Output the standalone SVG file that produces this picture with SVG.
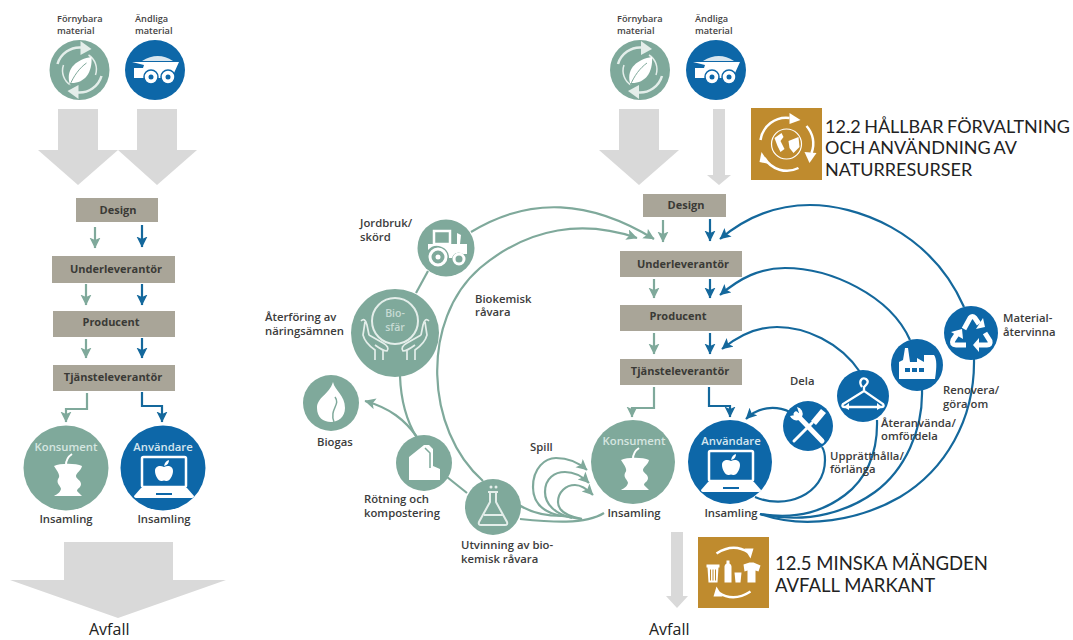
<svg xmlns="http://www.w3.org/2000/svg" width="1073" height="640" viewBox="0 0 1073 640">
<style>
text{font-family:"Open Sans","Liberation Sans",sans-serif}
.t{font-size:11.3px;font-weight:600;fill:#3c3c3c}
.s{font-size:9.2px;font-weight:600;fill:#444}
.b{font-size:11px;font-weight:700;fill:#3a3a36;text-anchor:middle}
.w{font-size:11.3px;font-weight:600;text-anchor:middle;fill:#d5e6ef}
.wg{fill:#d6e6e0}
.big{font-family:Lato,"Liberation Sans",sans-serif;font-size:18.5px;fill:#222}
.tight{font-size:18px;word-spacing:-1px}
.av{font-size:16px;fill:#222}
.box{fill:#a9a598}
.g{fill:#7fa99b}.u{fill:#0d67a8}.gold{fill:#bf8b2e}
.arr{fill:#d9d9d9}
.cg{fill:none;stroke:#7fa99b;stroke-width:2.2}
.cu{fill:none;stroke:#14689c;stroke-width:2.2}
.bio{font-size:10.5px;font-weight:600;fill:#c7dbd4;text-anchor:middle}
</style>
<defs>
<marker id="mg" markerUnits="userSpaceOnUse" markerWidth="12" markerHeight="12" refX="10.500" refY="5.500" orient="auto"><path d="M0 0L11 5.500L0 11L2.500 5.500Z" fill="#7fa99b"/></marker>
<marker id="mu" markerUnits="userSpaceOnUse" markerWidth="12" markerHeight="12" refX="10.500" refY="5.500" orient="auto"><path d="M0 0L11 5.500L0 11L2.500 5.500Z" fill="#14689c"/></marker>
<g id="ic-renew">
<path d="M-22 -6A23 23 0 0 1 2 -22.500" fill="none" stroke="#e4eeea" stroke-width="2.500"/><path d="M1 -29L12 -21L1 -15Z" fill="#e4eeea"/>
<path d="M22 6A23 23 0 0 1 -2 22.500" fill="none" stroke="#e4eeea" stroke-width="2.500"/><path d="M-1 29L-12 21L-1 15Z" fill="#e4eeea"/>
<path d="M-16 -5A17 17 0 0 0 -9 15" fill="none" stroke="#e4eeea" stroke-width="1.500"/><path d="M16 5A17 17 0 0 0 9 -15" fill="none" stroke="#e4eeea" stroke-width="1.500"/>
<path d="M-10 13C-14 -2 -2 -11 12 -13C13 3 5 14 -10 13Z" fill="#fff"/><path d="M-10 16C-6 6 0 -2 7 -7" fill="none" stroke="#7fa99b"/>
</g>
<g id="ic-truck">
<path d="M-13 -9Q3 -19 18 -9Z" fill="#d8e6ef"/>
<path d="M-23 -8H24L19 3H8V8H-3V2L-9 2V8H-21V-2L-12 -2L-11 -5Z" fill="#fff"/>
<circle cx="-4" cy="7" r="7" fill="#fff" stroke="#0d67a8" stroke-width="1.500"/><circle cx="-4" cy="7" r="2.500" fill="#0d67a8"/>
<circle cx="13" cy="7" r="7" fill="#fff" stroke="#0d67a8" stroke-width="1.500"/><circle cx="13" cy="7" r="2.500" fill="#0d67a8"/>
</g>
<g id="ic-apple">
<path d="M-14 -2C-8 -5 8 -5 14 -2C13 3 8 5 8 8C8 11 13 12 13 16C13 20 9 20 9 23C12 26 13 27 14 28H-14C-11 26 -8 25 -7 21C-7 18 -12 16 -10 11C-7 8 -10 4 -14 -2Z" fill="#fff"/>
<path d="M-2 -3Q-2 -10 4 -14" fill="none" stroke="#fff" stroke-width="2"/>
</g>
<g id="ic-laptop">
<rect x="-22" y="-11" width="44" height="30" rx="1.500" fill="none" stroke="#fff" stroke-width="2.500"/>
<path d="M-23 20H23L30 28Q30 30 27 30H-27Q-30 30 -30 28Z" fill="#fff"/><rect x="-8" y="25" width="16" height="2" fill="#0d67a8"/>
<path d="M0 -1C4 -3 9 -2 9 3C9 8 5 14 2 13Q0 12 -2 13C-5 14 -9 8 -9 3C-9 -2 -4 -3 0 -1Z" fill="#fff"/><path d="M0 -2Q1 -7 5 -8Q5 -3 0 -2Z" fill="#fff"/>
</g>
<g id="ic-tractor">
<rect x="-12" y="-17" width="16" height="13" fill="none" stroke="#fff" stroke-width="2.500"/>
<path d="M-18 -4H21V6H17A7 7 0 0 0 6 10H3A12 12 0 0 0 -18 2Z" fill="#fff"/><path d="M11 -4L11 -15L15 -13L14 -4Z" fill="#fff"/>
<circle cx="-8" cy="9" r="8" fill="#7fa99b" stroke="#fff" stroke-width="3"/><circle cx="-8" cy="9" r="2.500" fill="#fff"/>
<circle cx="13" cy="11" r="5" fill="#7fa99b" stroke="#fff" stroke-width="3"/>
</g>
<g id="ic-bio">
<circle cx="0" cy="-12" r="23" fill="none" stroke="#e4eeea" stroke-width="2"/>
<path d="M-34 -12Q-30 -16 -28 -8L-26 2M-30 -11L-32 2Q-30 10 -20 17V27M-26 2L-12 10Q-5 14 -8 18Q-12 18 -20 12M-12 27V17" fill="none" stroke="#e4eeea" stroke-width="1.700"/>
<path d="M34 -12Q30 -16 28 -8L26 2M30 -11L32 2Q30 10 20 17V27M26 2L12 10Q5 14 8 18Q12 18 20 12M12 27V17" fill="none" stroke="#e4eeea" stroke-width="1.700"/>
</g>
<g id="ic-flame">
<path d="M2 -21C4 -12 14 -8 14 5C14 14 7 19 0 19C-8 19 -14 14 -14 5C-14 -6 -2 -8 2 -21Z" fill="#fff"/><path d="M4 -6C10 2 -2 6 3 19" fill="none" stroke="#7fa99b" stroke-width="1.500"/>
</g>
<g id="ic-digester">
<path d="M-15 17V-6L0 -18L5 -18L9 -14V3L16 6V17Z" fill="#fff"/><path d="M1 -15L6 -10V5" fill="none" stroke="#7fa99b" stroke-width="1.500"/>
</g>
<g id="ic-flask">
<path d="M-5 -15H5M-3 -15V-5L-14 15Q-15 18 -12 18H12Q15 18 14 15L3 -5V-15M-9 8H9" fill="none" stroke="#e4eeea" stroke-width="2"/><circle cx="-2" cy="-20" r="1.500" fill="#e4eeea"/><circle cx="3" cy="-20" r="1.500" fill="#e4eeea"/>
</g>
<g id="ic-tools">
<path d="M-12 -12L14 15" stroke="#fff" stroke-width="5" stroke-linecap="round"/><path d="M-18 -10A7 7 0 0 0 -9 -6L-6 -9A7 7 0 0 0 -11 -19L-9 -13L-13 -11Z" fill="#fff"/>
<path d="M-14 15L4 -3" stroke="#fff" stroke-width="3" stroke-linecap="round"/><path d="M3 -5L13 -17L18 -13L8 -1Z" fill="#fff"/>
</g>
<g id="ic-hanger">
<path d="M-1 -9C-5 -15 -1 -19 3 -17C7 -14 3 -11 1 -9V-5L20 8Q22 11 18 11H-18Q-22 11 -20 8L1 -5" fill="none" stroke="#fff" stroke-width="2.300"/>
<path d="M-12 11H10" stroke="#fff" stroke-width="2"/><path d="M-14 7L-19 11L-14 14ZM14 7L19 11L14 14Z" fill="#fff"/>
</g>
<g id="ic-factory">
<path d="M-14 -5L-12 -17H-9L-7 -3L0 -3V-7L7 -3V-10H17Q21 -5 18 14H-18V-3Z" fill="#fff"/>
<g fill="#0d67a8"><rect x="-12" y="3" width="5" height="4"/><rect x="-5" y="3" width="5" height="4"/><rect x="2" y="3" width="5" height="4"/></g>
</g>
<g id="ic-recycle" fill="none" stroke="#fff" stroke-width="5">
<path d="M-7 -4L-1 -15Q1 -18 4 -15L8 -9"/><path d="M5 -4L14 -6L12 -15Z" fill="#fff" stroke="none"/>
<path d="M14 0L19 8Q20 12 16 12H6"/><path d="M8 5L2 12L8 19Z" fill="#fff" stroke="none"/>
<path d="M-5 12H-15Q-20 12 -18 7L-14 1"/><path d="M-20 -1L-9 -4L-8 6Z" fill="#fff" stroke="none"/>
</g>
<g id="ic-sdg2" fill="none" stroke="#fff" stroke-width="2.500">
<path d="M-26 -4A26 26 0 0 1 3 -26"/><path d="M3 -31L14 -24L3 -20Z" fill="#fff" stroke="none"/>
<path d="M20 -18A26 26 0 0 1 25 9"/><path d="M18 8L23 19L30 9Z" fill="#fff" stroke="none"/>
<path d="M12 24A26 26 0 0 1 -22 14"/><path d="M-17 20L-27 18L-25 8Z" fill="#fff" stroke="none"/>
<circle r="15" stroke-width="1.200"/><path d="M-12 -6L-5 -11L-3 -7L-6 -3L-2 5L-6 8L-9 2ZM2 -3L12 -7L13 3L7 9L3 4Z" fill="#fff" stroke="none"/>
</g>
<g id="ic-sdg5">
<g fill="none" stroke="#fff" stroke-width="2.500"><path d="M-17 -19Q0 -30 15 -20"/><path d="M17 19Q0 30 -15 20"/></g>
<path d="M11 -24L20 -24L17 -14ZM-11 24L-20 24L-17 14Z" fill="#fff"/>
<path d="M-27 -8H-14V-5H-15L-16 10H-25L-26 -5H-27Z" fill="#fff"/>
<path d="M-23 -3V8M-20.500 -3V8M-18 -3V8" stroke="#bf8b2e" stroke-width="1"/>
<path d="M-9 -6Q-9 -8 -7 -9V-12H-4V-9Q-2 -8 -2 -6V10H-9Z" fill="#fff"/><path d="M1 0H8L7 10H2Z" fill="#fff"/>
<path d="M10 -8L16 -10H20L27 -7L25 -1L22 -2V10H14V-2L11 -1Z" fill="#fff"/>
</g>
</defs>
<rect width="1073" height="640" fill="#fff"/>

<g id="connectors">
<polygon class="arr" points="58,109 98,109 98,150 118,150 78,185 38,150 58,150"/>
<polygon class="arr" points="137,109 177,109 177,150 197,150 157,185 118,150 137,150"/>
<polygon class="arr" points="64,542 173,542 173,580 226,580 118,618 10,580 64,580"/>
<polygon class="arr" points="619,109 659,109 659,150 679,150 639,185 599,150 619,150"/>
<polygon class="arr" points="713,109 725,109 725,175 731,175 719,185 707,175 713,175"/>
<polygon class="arr" points="671,532 683,532 683,596 688,596 677,608 666,596 671,596"/>
<g class="cg" marker-end="url(#mg)">
<path d="M95 227V248"/><path d="M86 284V305"/><path d="M86 339V358"/><path d="M87 393V409H66V422"/>
<path d="M663 220V242"/><path d="M654 279V298"/><path d="M654 333V354"/><path d="M654 387V408H632V417"/>
<path d="M471 232C530 196 590 200 654 239"/>
<path d="M483 481C425 430 420 320 480 268C530 226 585 220 637 238"/>
<path d="M417 437C405 420 390 408 365 401"/>
<path d="M562 516C540 512 533 500 533 487C533 468 545 458 556 458C568 458 578 462 587 470"/>
<path d="M572 518C555 514 545 504 545 492C545 478 555 472 565 472C573 472 582 476 589 483"/>
<path d="M582 519C566 516 558 510 558 502C558 492 566 485 575 485C582 485 588 490 593 495"/>
</g>
<path class="cg" d="M519 505C530 512 545 516 562 516C570 517 575 518 582 519"/>
<path class="cg" d="M520 519C550 522 585 525 604 513"/>
<path class="cg" d="M428 271L416 293"/>
<path class="cg" d="M400 376C401 405 409 425 417 438"/>
<path class="cg" d="M447 477L467 493"/>
<g class="cu" marker-end="url(#mu)">
<path d="M142 225V247"/><path d="M142 284V305"/><path d="M142 338V358"/><path d="M142 392V406H162V422"/>
<path d="M710 219V241"/><path d="M710 279V298"/><path d="M710 333V354"/><path d="M709 387V406H730V417"/>
<path d="M964 307C930 230 855 205 810 205C775 205 745 218 720 239"/>
<path d="M910 340C890 295 830 268 785 268C760 268 740 278 720 295"/>
<path d="M860 372C840 342 805 327 777 327C755 327 738 336 722 349"/>
<path d="M790 412C775 405 758 407 746 419"/>
</g>
<path class="cu" d="M755 497C785 510 825 495 825 460C825 455 824 450 822 447"/>
<path class="cu" d="M877 420C878 455 865 480 845 495C825 510 800 520 760 514"/>
<path class="cu" d="M922 390C923 430 905 470 875 492C850 510 810 525 760 514"/>
<path class="cu" d="M974 359C975 420 945 470 900 497C860 520 805 530 760 514"/>
</g>

<g id="n-fornybara-l"><text class="s" x="57" y="22">Förnybara</text><text class="s" x="57" y="34">material</text><circle class="g" cx="79.500" cy="70" r="30"/><use href="#ic-renew" x="79.500" y="70"/></g>
<g id="n-andliga-l"><text class="s" x="135" y="22">Ändliga</text><text class="s" x="135" y="34">material</text><circle class="u" cx="155" cy="70" r="30"/><use href="#ic-truck" x="155" y="70"/></g>
<g id="n-design-l"><rect class="box" x="76" y="198" width="82" height="24"/><text class="b" x="118" y="214">Design</text></g>
<g id="n-under-l"><rect class="box" x="52" y="256" width="123" height="27"/><text class="b" x="116" y="273">Underleverantör</text></g>
<g id="n-prod-l"><rect class="box" x="53" y="311" width="122" height="26"/><text class="b" x="111" y="326">Producent</text></g>
<g id="n-tjanst-l"><rect class="box" x="53" y="365" width="122" height="26"/><text class="b" x="113" y="381">Tjänsteleverantör</text></g>
<g id="n-konsument-l"><circle class="g" cx="66" cy="468" r="42.500"/><text class="w wg" x="66" y="451">Konsument</text><use href="#ic-apple" x="68" y="468"/><text class="t" x="66" y="523" text-anchor="middle">Insamling</text></g>
<g id="n-anvandare-l"><circle class="u" cx="163" cy="468" r="42.500"/><text class="w" x="163" y="451">Användare</text><use href="#ic-laptop" x="164" y="468"/><text class="t" x="164" y="523" text-anchor="middle">Insamling</text></g>
<text class="av" x="89" y="635">Avfall</text>

<g id="n-fornybara-r"><text class="s" x="617" y="22">Förnybara</text><text class="s" x="617" y="34">material</text><circle class="g" cx="640" cy="70" r="30"/><use href="#ic-renew" x="640" y="70"/></g>
<g id="n-andliga-r"><text class="s" x="695" y="22">Ändliga</text><text class="s" x="695" y="34">material</text><circle class="u" cx="716" cy="70" r="30"/><use href="#ic-truck" x="716" y="70"/></g>
<g id="n-sdg122"><rect class="gold" x="751" y="108" width="71" height="72"/><use href="#ic-sdg2" x="786.500" y="144"/><text class="big tight" x="825" y="133">12.2 HÅLLBAR FÖRVALTNING</text><text class="big tight" x="825" y="154">OCH ANVÄNDNING AV</text><text class="big tight" x="825" y="176">NATURRESURSER</text></g>
<g id="n-design-r"><rect class="box" x="643" y="194" width="83" height="23"/><text class="b" x="686" y="209">Design</text></g>
<g id="n-under-r"><rect class="box" x="620" y="251" width="122" height="26"/><text class="b" x="683" y="268">Underleverantör</text></g>
<g id="n-prod-r"><rect class="box" x="620" y="305" width="122" height="26"/><text class="b" x="678" y="320">Producent</text></g>
<g id="n-tjanst-r"><rect class="box" x="620" y="359" width="122" height="26"/><text class="b" x="680" y="375">Tjänsteleverantör</text></g>
<g id="n-konsument-r"><circle class="g" cx="633" cy="462" r="42"/><text class="w wg" x="634" y="445">Konsument</text><use href="#ic-apple" x="635" y="462"/><text class="t" x="634" y="517" text-anchor="middle">Insamling</text></g>
<g id="n-anvandare-r"><circle class="u" cx="730" cy="462" r="42"/><text class="w" x="731" y="445">Användare</text><use href="#ic-laptop" x="731" y="462"/><text class="t" x="731" y="517" text-anchor="middle">Insamling</text></g>
<g id="n-sdg125"><rect class="gold" x="698" y="537" width="71" height="71"/><use href="#ic-sdg5" x="733.500" y="572.500"/><text class="big" x="775" y="570">12.5 MINSKA MÄNGDEN</text><text class="big" x="775" y="592">AVFALL MARKANT</text></g>
<text class="av" x="649" y="635">Avfall</text>

<g id="n-jordbruk"><circle class="g" cx="446" cy="248" r="28.500"/><use href="#ic-tractor" x="446" y="248"/><text class="t" x="360" y="227">Jordbruk/</text><text class="t" x="360" y="241">skörd</text></g>
<g id="n-biosfar"><circle class="g" cx="395" cy="333" r="44"/><use href="#ic-bio" x="395" y="333"/><text class="bio" x="395" y="317">Bio-</text><text class="bio" x="395" y="331">sfär</text><text class="t" x="265" y="321">Återföring av</text><text class="t" x="265" y="335">näringsämnen</text></g>
<g id="n-biogas"><circle class="g" cx="331" cy="403" r="28"/><use href="#ic-flame" x="331" y="403"/><text class="t" x="317" y="446">Biogas</text></g>
<g id="n-rotning"><circle class="g" cx="424" cy="463" r="28"/><use href="#ic-digester" x="424" y="463"/><text class="t" x="364" y="503">Rötning och</text><text class="t" x="364" y="517">kompostering</text></g>
<g id="n-utvinning"><circle class="g" cx="493" cy="507" r="28"/><use href="#ic-flask" x="493" y="507"/><text class="t" x="461" y="549">Utvinning av bio-</text><text class="t" x="461" y="563">kemisk råvara</text></g>
<text class="t" x="475" y="303">Biokemisk</text><text class="t" x="475" y="316">råvara</text>
<text class="t" x="530" y="451">Spill</text>

<g id="n-dela"><circle class="u" cx="808" cy="426" r="25"/><use href="#ic-tools" x="808" y="426"/><text class="t" x="790" y="385">Dela</text><text class="t" x="830" y="460">Upprätthålla/</text><text class="t" x="830" y="473">förlänga</text></g>
<g id="n-hanger"><circle class="u" cx="863" cy="396" r="26"/><use href="#ic-hanger" x="863" y="396"/><text class="t" x="881" y="427">Återanvända/</text><text class="t" x="881" y="440">omfördela</text></g>
<g id="n-fabrik"><circle class="u" cx="917" cy="365" r="26"/><use href="#ic-factory" x="917" y="365"/><text class="t" x="943" y="394">Renovera/</text><text class="t" x="943" y="408">göra om</text></g>
<g id="n-material"><circle class="u" cx="971" cy="333" r="27"/><use href="#ic-recycle" x="971" y="333"/><text class="t" x="1003" y="322">Material-</text><text class="t" x="1003" y="336">återvinna</text></g>
</svg>
